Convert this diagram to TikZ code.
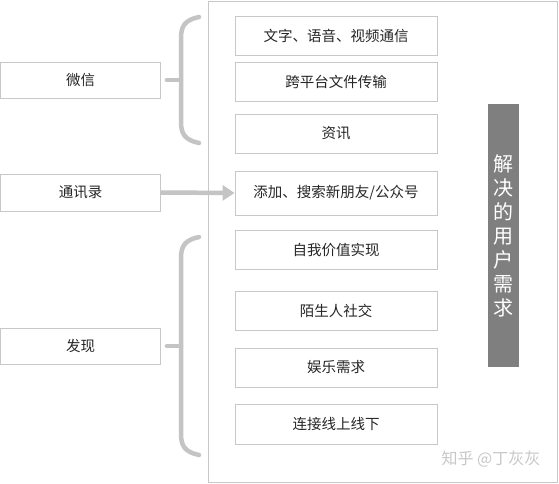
\documentclass[tikz,border=0pt]{standalone}
\usepackage{fontspec}
\setmainfont{Noto Sans CJK SC}
\usetikzlibrary{arrows.meta}
\definecolor{linegray}{HTML}{C8C8C8}
\definecolor{bracegray}{HTML}{C4C4C4}
\definecolor{bargray}{HTML}{7F7F7F}
\definecolor{textdark}{HTML}{262626}
\tikzset{
  needbox/.style={draw=linegray, line width=0.9pt, inner sep=0pt, minimum width=202pt, minimum height=39pt, text=textdark, font=\fontsize{14.5}{16}\selectfont},
  appbox/.style={draw=linegray, line width=0.9pt, inner sep=0pt, minimum width=160pt, minimum height=36pt, text=textdark, font=\fontsize{14.5}{16}\selectfont},
  brace/.style={draw=bracegray, line width=4.5pt, line cap=round},
  feed/.style={draw=bracegray, line width=4.5pt, -{Triangle[length=12pt,width=15pt]}}
}
\begin{document}
\begin{tikzpicture}[x=1pt,y=-1pt]
                        \useasboundingbox (0,0) rectangle (559,484);
                        \fill [white] (0,0) rectangle (559,484);%

                        % Drawing frame around needs
                        \node (frame) [draw=linegray, line width=0.9pt, minimum width=349pt, minimum height=481pt, inner sep=0pt] at (382.5,241.5) {};%

                        % Marking needs by boxes
                        \node (chat) [needbox] at (336,35.5) { 文字、语音、视频通信 };%
                        \node (files) [needbox] at (336,81.5) { 跨平台文件传输 };%
                        \node (news) [needbox] at (336,133.5) { 资讯 };%
                        \node (friends) [needbox, minimum height=44pt] at (336,193) { 添加、搜索新朋友/公众号 };%
                        \node (self) [needbox] at (336,249.5) { 自我价值实现 };%
                        \node (strangers) [needbox] at (336,310.5) { 陌生人社交 };%
                        \node (fun) [needbox] at (336,367.5) { 娱乐需求 };%
                        \node (offline) [needbox, minimum height=40pt] at (336,424) { 连接线上线下 };%

                        % Marking apps by boxes
                        \node (wechat) [appbox] at (80.5,80) { 微信 };%
                        \node (contacts) [appbox, minimum height=37pt] at (80.5,192.5) { 通讯录 };%
                        \node (discover) [appbox] at (80.5,346) { 发现 };%

                        % Drawing gray bar
                        \node (solved) [fill=bargray, text=white, minimum width=31pt, minimum height=263pt, inner sep=0pt, font=\fontsize{20}{24}\selectfont, align=center] at (503.5,235.5) { 解\\决\\的\\用\\户\\需\\求 };%

                        % Drawing brace for wechat
                        \coordinate (wtop) at (199,17);%
                        \coordinate (wbot) at (199,143);%
                        \coordinate (wtip) at (181,80);%
                        \draw [brace] (wtop) .. controls (185,20) and (181,26) .. (181,38) -- (181,122) .. controls (181,134) and (185,140) .. (wbot);%
                        \draw [brace] (wechat.east) ++(6,0) -- (wtip);%

                        % Drawing arrow for contacts
                        \draw [feed] (contacts.east) -- (friends.west);%

                        % Drawing brace for discover
                        \coordinate (dtop) at (199,237);%
                        \coordinate (dbot) at (199,455);%
                        \coordinate (dtip) at (181,346);%
                        \draw [brace] (dtop) .. controls (185,240) and (181,246) .. (181,258) -- (181,434) .. controls (181,446) and (185,452) .. (dbot);%
                        \draw [brace] (discover.east) ++(6,0) -- (dtip);%

                        % Watermark
                        \node (mark) [text=linegray, font=\fontsize{16}{18}\selectfont] at (491,459) { 知乎 @丁灰灰 };%
\end{tikzpicture}
\end{document}
